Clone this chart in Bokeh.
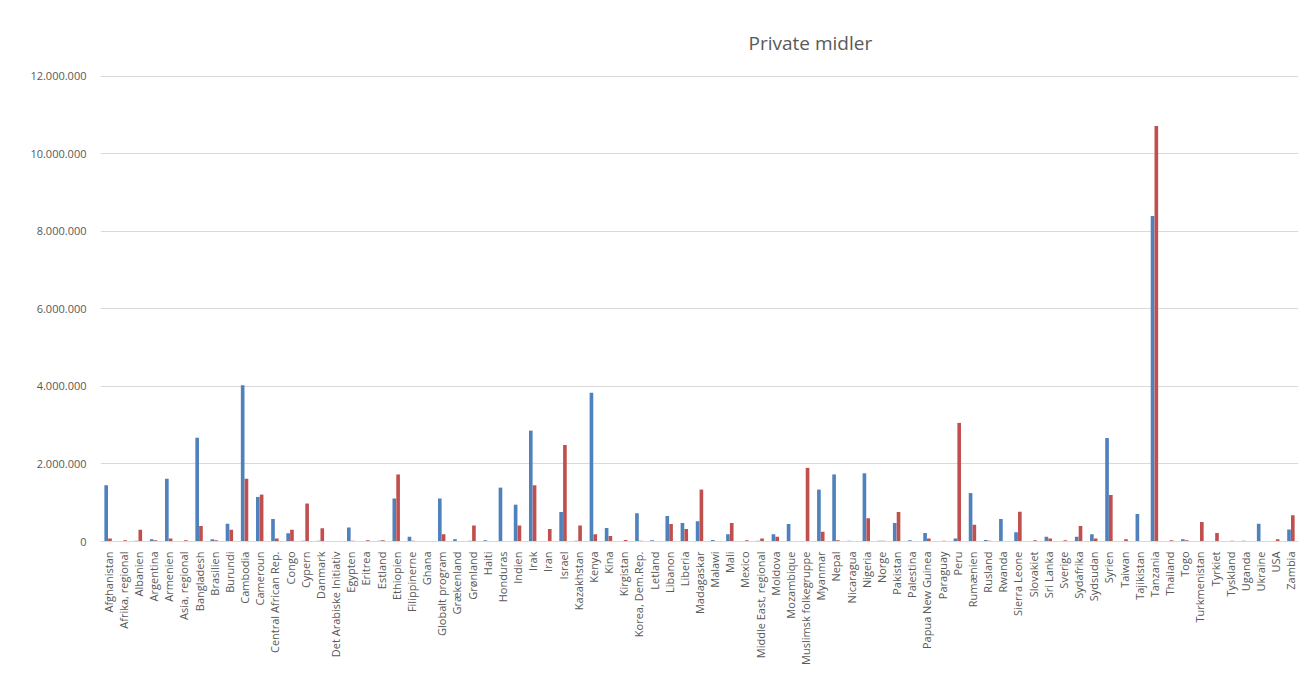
from bokeh.plotting import figure
from bokeh.models import FactorRange, Range1d, CustomJSTickFormatter, ColumnDataSource, Title
from bokeh.transform import dodge
from bokeh.embed import file_html
from bokeh.resources import INLINE
import math

categories = ["Afghanistan", "Afrika, regional", "Albanien", "Argentina", "Armenien", "Asia, regional",
    "Bangladesh", "Brasilien", "Burundi", "Cambodia", "Cameroun", "Central African Rep.", "Congo",
    "Cypern", "Danmark", "Det Arabiske Initiativ", "Egypten", "Eritrea", "Estland", "Ethiopien",
    "Filippinerne", "Ghana", "Globalt program", "Grækenland", "Grønland", "Haiti", "Honduras",
    "Indien", "Irak", "Iran", "Israel", "Kazakhstan", "Kenya", "Kina", "Kirgistan", "Korea, Dem.Rep.",
    "Letland", "Libanon", "Liberia", "Madagaskar", "Malawi", "Mali", "Mexico", "Middle East, regional",
    "Moldova", "Mozambique", "Muslimsk folkegruppe", "Myanmar", "Nepal", "Nicaragua", "Nigeria",
    "Norge", "Pakistan", "Palestina", "Papua New Guinea", "Paraguay", "Peru", "Rumænien", "Rusland",
    "Rwanda", "Sierra Leone", "Slovakiet", "Sri Lanka", "Sverige", "Sydafrika", "Sydsudan", "Syrien",
    "Taiwan", "Tajikistan", "Tanzania", "Thailand", "Togo", "Turkmenistan", "Tyrkiet", "Tyskland",
    "Uganda", "Ukraine", "USA", "Zambia"]

series_blue = [1450000, 10000, 20000, 60000, 1620000, 0,
    2680000, 60000, 460000, 4030000, 1150000, 580000, 210000,
    20000, 20000, 0, 360000, 0, 20000, 1110000,
    120000, 0, 1110000, 60000, 20000, 30000, 1390000,
    950000, 2860000, 0, 760000, 20000, 3840000, 350000, 0, 730000,
    30000, 660000, 480000, 520000, 40000, 190000, 0, 20000,
    190000, 450000, 0, 1340000, 1730000, 20000, 1760000,
    20000, 480000, 30000, 220000, 0, 80000, 1250000, 40000,
    580000, 240000, 0, 120000, 0, 120000, 190000, 2670000,
    0, 710000, 8400000, 0, 60000, 0, 0, 0,
    20000, 460000, 0, 310000]

series_red = [80000, 30000, 300000, 30000, 80000, 30000,
    400000, 30000, 300000, 1620000, 1210000, 80000, 300000,
    980000, 340000, 0, 20000, 30000, 30000, 1730000,
    20000, 0, 190000, 0, 410000, 0, 0,
    410000, 1450000, 320000, 2490000, 410000, 190000, 140000, 40000, 20000,
    0, 450000, 320000, 1340000, 0, 480000, 30000, 80000,
    120000, 0, 1900000, 250000, 30000, 0, 600000,
    20000, 760000, 0, 80000, 20000, 3060000, 430000, 20000,
    0, 770000, 30000, 80000, 30000, 400000, 80000, 1200000,
    60000, 0, 10720000, 30000, 30000, 500000, 220000, 20000,
    0, 0, 60000, 680000]

y_ticks = [0, 2000000, 4000000, 6000000, 8000000, 10000000, 12000000]

src = ColumnDataSource(dict(cat=categories, blue=series_blue, red=series_red))

p = figure(width=1300, height=687, x_range=FactorRange(*categories), y_range=Range1d(0, 12410000),
           output_backend="svg", toolbar_location=None,
           min_border_left=100, min_border_right=2, min_border_top=60, min_border_bottom=146)
p.title = None
p.add_layout(Title(text="Private midler", align="left", offset=648, text_font="Open Sans",
                   text_font_size="19px", text_font_style="normal", text_color="#595959",
                   standoff=10), "above")

p.vbar(x=dodge("cat", -0.125, range=p.x_range), top="blue", width=0.24, source=src,
       fill_color="#4F81BD", line_color=None)
p.vbar(x=dodge("cat", 0.125, range=p.x_range), top="red", width=0.24, source=src,
       fill_color="#C0504D", line_color=None)

p.outline_line_color = None
p.xgrid.grid_line_color = None
p.ygrid.grid_line_color = "#d9d9d9"
p.yaxis.ticker = y_ticks
p.yaxis.formatter = CustomJSTickFormatter(code="""
return Math.round(tick).toString().replace(/\\B(?=(\\d{3})+(?!\\d))/g, ".");
""")
p.yaxis.axis_line_color = None
p.yaxis.major_tick_line_color = None
p.yaxis.minor_tick_line_color = None
p.yaxis.major_label_text_font = "Open Sans"
p.yaxis.major_label_text_font_size = "11px"
p.yaxis.major_label_text_color = "#595959"
p.yaxis.major_label_standoff = 8

p.xaxis.axis_line_color = "#d9d9d9"
p.xaxis.major_tick_line_color = None
p.xaxis.minor_tick_line_color = None
p.xaxis.major_label_orientation = math.pi / 2
p.xaxis.major_label_text_font = "Open Sans"
p.xaxis.major_label_text_font_size = "11px"
p.xaxis.major_label_text_color = "#595959"
p.xaxis.major_label_standoff = 4
p.x_range.range_padding = 0
p.x_range.group_padding = 0

open("out.html", "w").write(file_html(p, INLINE))
